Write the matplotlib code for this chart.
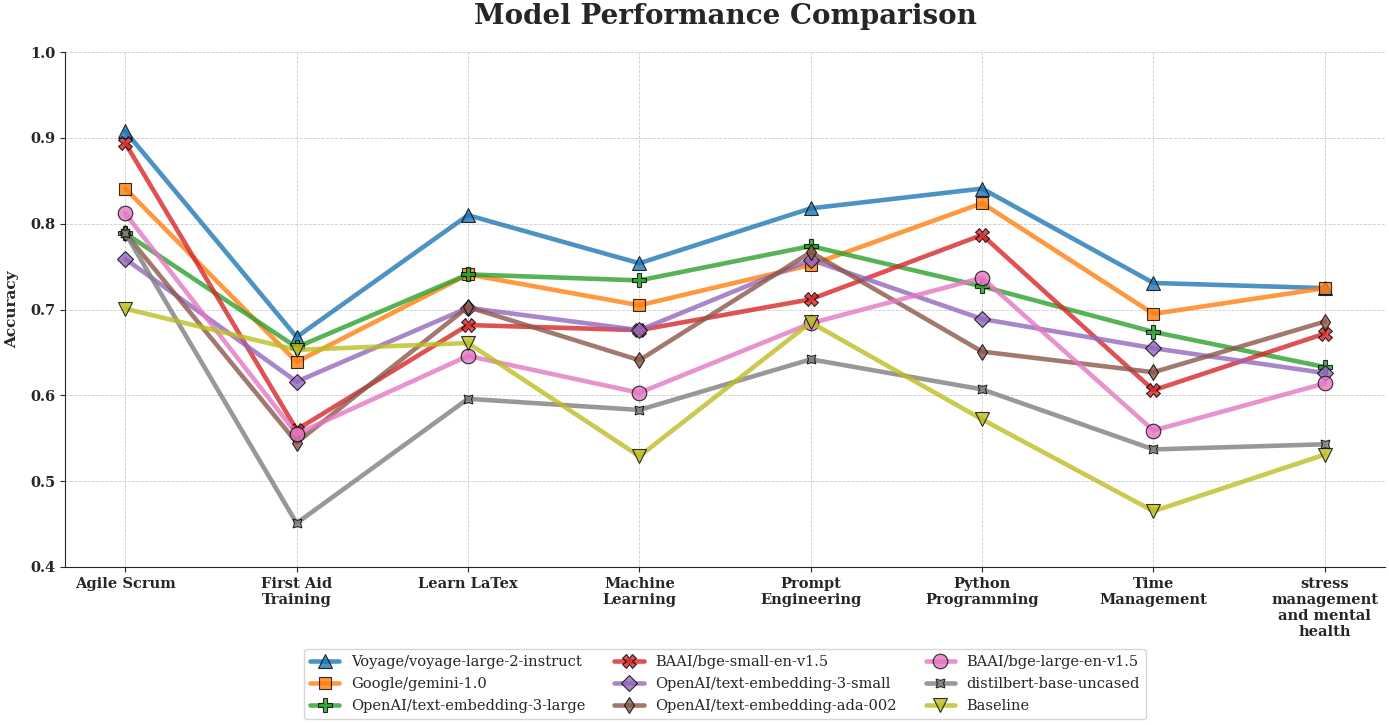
import numpy as np
import matplotlib.pyplot as plt
import seaborn as sns

sns.set_style("ticks")
plt.rcParams['font.family'] = ['DejaVu Serif']

categories = ['Agile Scrum', 'First Aid\nTraining', 'Learn LaTex', 'Machine\nLearning',
              'Prompt\nEngineering', 'Python\nProgramming', 'Time\nManagement',
              'stress\nmanagement\nand mental\nhealth']

models = ['Voyage/voyage-large-2-instruct', 'Google/gemini-1.0', 'OpenAI/text-embedding-3-large',
          'BAAI/bge-small-en-v1.5', 'OpenAI/text-embedding-3-small', 'OpenAI/text-embedding-ada-002',
          'BAAI/bge-large-en-v1.5', 'distilbert-base-uncased', 'Baseline']

voyage = [0.908, 0.668, 0.810, 0.754, 0.818, 0.841, 0.731, 0.725]
gemini = [0.841, 0.639, 0.741, 0.705, 0.752, 0.824, 0.695, 0.725]
te3_large = [0.789, 0.656, 0.741, 0.734, 0.774, 0.727, 0.674, 0.633]
bge_small = [0.894, 0.560, 0.682, 0.676, 0.712, 0.787, 0.606, 0.672]
te3_small = [0.759, 0.616, 0.702, 0.676, 0.758, 0.689, 0.655, 0.626]
ada_002 = [0.789, 0.545, 0.703, 0.641, 0.767, 0.651, 0.627, 0.686]
bge_large = [0.812, 0.555, 0.646, 0.603, 0.684, 0.737, 0.559, 0.614]
distilbert = [0.789, 0.451, 0.596, 0.583, 0.642, 0.607, 0.537, 0.543]
baseline = [0.701, 0.653, 0.661, 0.529, 0.685, 0.572, 0.465, 0.531]

series = [voyage, gemini, te3_large, bge_small, te3_small, ada_002, bge_large, distilbert, baseline]
markers = ['^', 's', 'P', 'X', 'D', 'd', 'o', (4, 1, 45), 'v']
msizes = [10, 9, 10, 10, 8, 8, 10.5, 9, 10]
colors = plt.cm.tab10.colors

fig, ax = plt.subplots(figsize=(13.89, 7.25), dpi=100)
x = np.arange(len(categories))

for i, (name, vals) in enumerate(zip(models, series)):
    ax.plot(x, vals, marker=markers[i], color=colors[i], label=name, linewidth=3.3,
            markersize=msizes[i], alpha=0.8, markeredgecolor='black', markeredgewidth=0.8)

ax.set_ylim(0.4, 1.0)
ax.set_xticks(x)
ax.set_xticklabels(categories, fontweight='bold', fontsize=10.5)
for lbl in ax.get_yticklabels():
    lbl.set_fontweight('bold')
    lbl.set_fontsize(10.5)
ax.set_ylabel('Accuracy', fontweight='bold', fontsize=11, labelpad=8)
ax.set_title('Model Performance Comparison', fontweight='bold', fontsize=20, pad=20)
ax.grid(True, linestyle='--', linewidth=0.6, color='#cccccc')
sns.despine(ax=ax)

ax.legend(loc='upper center', bbox_to_anchor=(0.5, -0.145), ncol=3, fontsize=10.5,
          frameon=True, handlelength=2.0, labelspacing=0.55)

plt.subplots_adjust(left=0.047, right=0.997, top=0.928, bottom=0.218)
plt.savefig('out.png')
